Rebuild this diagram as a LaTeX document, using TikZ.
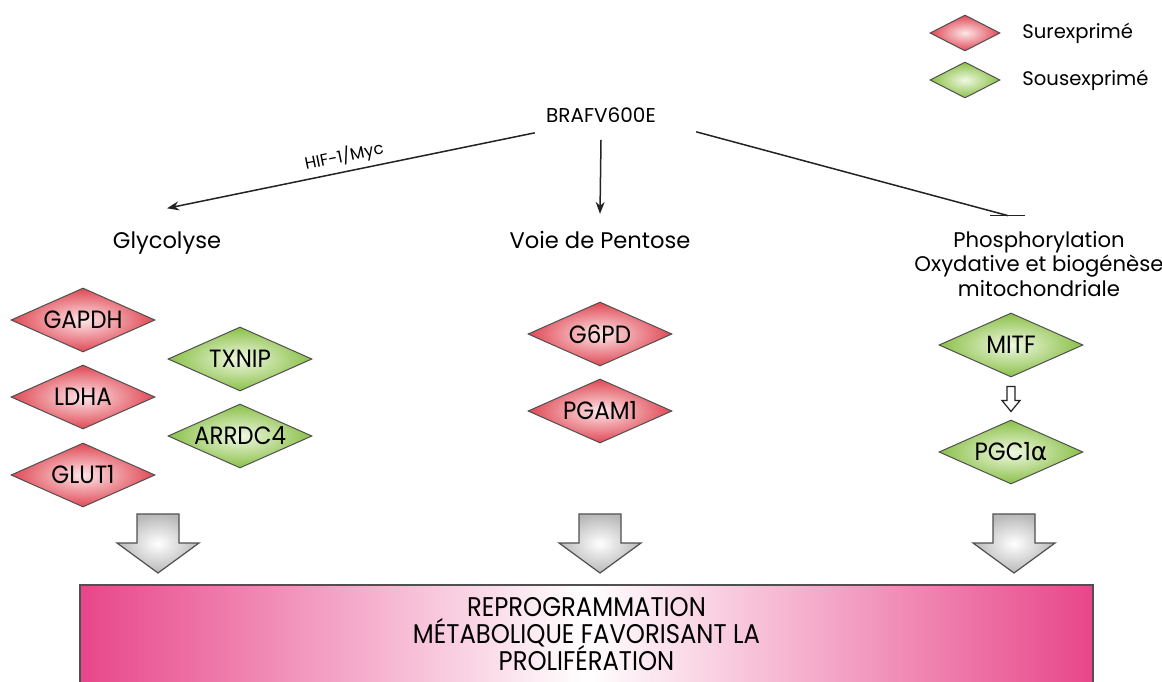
\documentclass[tikz,border=0pt]{standalone}
\usepackage{fontspec}
\setmainfont{Poppins}
\newfontfamily\boxfont[FakeStretch=0.9]{Poppins}
\newfontfamily\genefont[FakeStretch=0.92]{Poppins}
\newfontfamily\greekfont{DejaVu Sans}
\usetikzlibrary{shapes.geometric,arrows.meta,calc}
\definecolor{upred}{RGB}{224,72,84}
\definecolor{upredin}{RGB}{253,230,232}
\definecolor{downgreen}{RGB}{138,192,72}
\definecolor{downgreenin}{RGB}{240,248,226}
\definecolor{boxpink}{RGB}{232,70,138}
\definecolor{edgegray}{RGB}{80,80,80}
\definecolor{linegray}{RGB}{35,35,35}
\newcommand{\gene}[1]{\makebox[0pt]{#1}}
\newcommand{\boxtext}{\boxfont\fontsize{13.5}{13.3}\selectfont\lineskiplimit -6pt\relax}

\tikzset{
  genebox/.style={diamond, draw=edgegray, line width=0.5pt, inner sep=0pt,
    minimum width=72pt, minimum height=32pt,
    font=\genefont\fontsize{12.5}{14}\selectfont},
  upgene/.style={genebox, inner color=upredin, outer color=upred},
  downgene/.style={genebox, inner color=downgreenin, outer color=downgreen},
  legdia/.style={genebox, minimum width=35pt, minimum height=18pt},
  pathlabel/.style={font=\fontsize{11.3}{12.8}\selectfont},
  reprogbox/.style={rectangle, draw=edgegray, line width=0.6pt,
    left color=boxpink, right color=boxpink, middle color=white,
    minimum width=506.5pt, minimum height=49pt, align=center,
    font=\boxtext},
  fatarrow/.style={draw=edgegray, line width=0.6pt, inner color=white, outer color=black!28}
}

\begin{document}
\begin{tikzpicture}[x=0.5pt, y=-0.5pt, >={Stealth[length=6pt,width=4.5pt]},
    line width=0.75pt, draw=linegray]
    \useasboundingbox[fill=white] (0,0) rectangle (1162,681);
    % legend
    \node[legdia, inner color=upredin, outer color=upred] (legup) at (965,33) {};
    \node[legdia, inner color=downgreenin, outer color=downgreen] (legdown) at (965,80) {};
    \node[anchor=west, font=\fontsize{9.8}{11}\selectfont] (leguptxt) at (1015,33) {Surexprimé};
    \node[anchor=west, font=\fontsize{9.8}{11}\selectfont] (legdowntxt) at (1015,80) {Sousexprimé};
    % pathways
    \node[pathlabel, font=\fontsize{10}{12}\selectfont] (braf) at (601,115) {BRAFV600E};
    \node[pathlabel] (glyco) at (167,243) {Glycolyse};
    \node[pathlabel] (voie) at (600,240) {Voie de Pentose};
    \node[pathlabel, align=center, font=\fontsize{10.6}{12.4}\selectfont] (phos) at (1039,264) {Phosphorylation\\Oxydative et biogénèse\\mitochondriale};
    \coordinate (phosin) at ($(phos.north)+(-31,-8)$);
    \draw[<-] ($(glyco.north)+(0,-16)$) -- node[sloped, above=-1pt, pos=0.49, font=\fontsize{8.3}{9}\selectfont] {HIF-1/Myc} ($(braf.south west)+(-4,3)$);
    \draw[->] ($(braf.south)+(0,10)$) -- ($(voie.north)+(0,-10)$);
    \draw ($(braf.south east)+(33,2)$) -- (phosin);
    \draw ($(phosin)+(-18,0)$) -- ($(phosin)+(17,0)$);
    % genes
    \node[upgene] (gapdh) at (83,320) {\gene{GAPDH}};
    \node[upgene] (ldha) at (83,397) {\gene{LDHA}};
    \node[upgene] (glut) at (83,475) {\gene{GLUT1}};
    \node[downgene] (txnip) at (240,359) {\gene{TXNIP}};
    \node[downgene] (arrdc) at (240,436) {\gene{ARRDC4}};
    \node[upgene] (gsixpd) at (600,334) {\gene{G6PD}};
    \node[upgene] (pgam) at (600,411) {\gene{PGAM1}};
    \node[downgene] (mitf) at (1011,345) {\gene{MITF}};
    \node[downgene] (pgc) at (1011,452) {\gene{PGC1{\greekfont α}}};
    \draw[line width=0.6pt, fill=white] ($(mitf.south)!0.5!(pgc.north)+(-4,-12)$) -- ++(8,0) -- ++(0,14)
      -- ++(5,0) -- ++(-9,11) -- ++(-9,-11) -- ++(5,0) -- cycle;
    % outcome
    \foreach \ax in {158,600,1014}
      \shade[fatarrow] (\ax-21,514) -- (\ax+21,514) -- (\ax+21,543) -- (\ax+41,543)
        -- (\ax,573) -- (\ax-41,543) -- (\ax-21,543) -- cycle;
    \node[reprogbox] (reprog) at (586.5,634) {REPROGRAMMATION\\MÉTABOLIQUE FAVORISANT LA\\PROLIFÉRATION};
\end{tikzpicture}
\end{document}
